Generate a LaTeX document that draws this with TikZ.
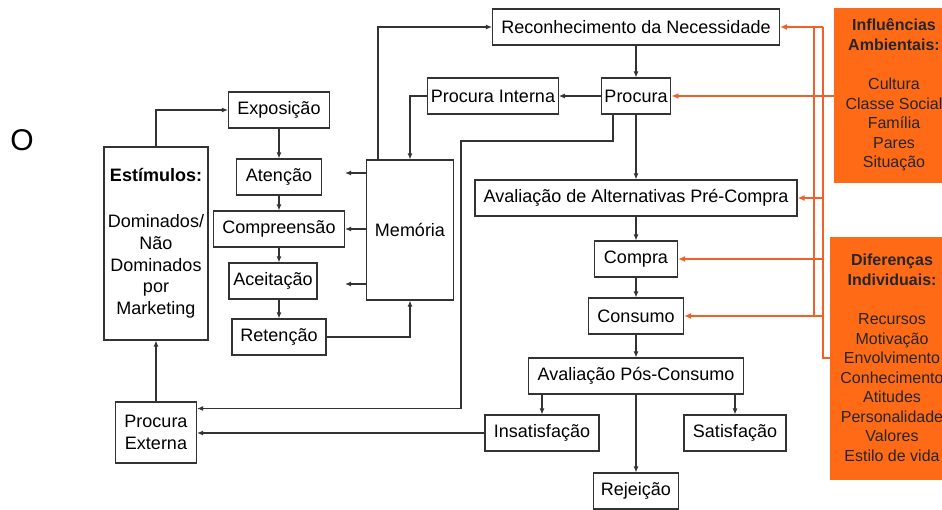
\documentclass[tikz,border=0pt]{standalone}
\usepackage{fontspec}
\setmainfont{Liberation Sans}
\usepackage{tikz}
\usetikzlibrary{shapes.geometric, arrows.meta, positioning}
\definecolor{laranja}{RGB}{255,106,22}
\definecolor{linhaLaranja}{RGB}{242,96,42}

\begin{document}
\begin{tikzpicture}[x=1pt, y=1pt, node distance=2cm]
	\tikzstyle{process} = [rectangle, minimum height=36pt, text centered, draw=black!80, line width=1.1pt, fill=white, font=\fontsize{18}{21.7}\selectfont]
	\tikzstyle{influence} = [rectangle, align=center, draw=laranja, fill=laranja, text=black!85, font=\fontsize{16}{19.5}\selectfont]
	\tikzstyle{arrow} = [draw=black!80, line width=1.1pt, -{Latex[length=6pt,width=5pt]}]
	\tikzstyle{orangeline} = [draw=linhaLaranja, line width=1.6pt]
	\tikzstyle{orangearrow} = [orangeline, -{Latex[length=7pt,width=6pt]}]
	\path[use as bounding box, fill=white] (0,0) rectangle (942,-509);
	\node (letraO) at (22,-140) {\fontsize{30}{30}\selectfont O};
	% coluna central
	\node (reconhecimento) [process, minimum width=287pt] at (636,-27) {Reconhecimento da Necessidade};
	\node (procura) [process, minimum width=68pt, below of=reconhecimento, node distance=69pt] {Procura};
	\node (procuraInterna) [process, minimum width=129pt, left of=procura, node distance=143pt] {Procura Interna};
	\node (avaliacaoPre) [process, minimum width=322pt, below of=procura, node distance=102pt] {Avaliação de Alternativas Pré-Compra};
	\node (compra) [process, minimum width=83pt, below of=avaliacaoPre, node distance=61pt] {Compra};
	\node (consumo) [process, minimum width=95pt, below of=compra, node distance=57pt] {Consumo};
	\node (avaliacaoPos) [process, minimum width=215pt, below of=consumo, node distance=60pt] {Avaliação Pós-Consumo};
	\node (insatisfacao) [process, minimum width=114pt, below of=avaliacaoPos, node distance=57pt, xshift=-94pt] {Insatisfação};
	\node (satisfacao) [process, minimum width=102pt, below of=avaliacaoPos, node distance=57pt, xshift=99pt] {Satisfação};
	\node (rejeicao) [process, minimum width=85pt, below of=avaliacaoPos, node distance=115pt] {Rejeição};
	% lado esquerdo
	\node (memoria) [process, minimum width=87pt, minimum height=140pt] at (410,-230) {Memória};
	\node (exposicao) [process, minimum width=101pt] at (279,-110) {Exposição};
	\node (atencao) [process, minimum width=85pt, below of=exposicao, node distance=67pt] {Atenção};
	\node (compreensao) [process, minimum width=131pt, below of=atencao, node distance=52pt] {Compreensão};
	\node (aceitacao) [process, minimum width=88pt, below of=compreensao, node distance=52pt, xshift=-6pt] {Aceitação};
	\node (retencao) [process, minimum width=94pt, below of=compreensao, node distance=108pt] {Retenção};
	\node (estimulos) [process, minimum width=104pt, minimum height=193pt, align=center] at (156,-243.5) {\textbf{Estímulos:}\\[24pt]Dominados/\\Não\\Dominados\\por\\Marketing};
	\node (procuraExterna) [process, minimum width=81pt, minimum height=61pt, align=center, below of=estimulos, node distance=189pt] {Procura\\Externa};
	% influencias
	\node (influencias) [influence, minimum width=120pt, minimum height=174pt] at (894,-95) {\textbf{Influências}\\\textbf{Ambientais:}\\[20pt]Cultura\\Classe Social\\Família\\Pares\\Situação};
	\node (diferencas) [influence, minimum width=124pt, minimum height=242pt] at (892,-358) {\textbf{Diferenças}\\\textbf{Individuais:}\\[20pt]Recursos\\Motivação\\Envolvimento\\Conhecimento\\Atitudes\\Personalidade\\Valores\\Estilo de vida};
	\coordinate (busInf) at (814,0);
	\coordinate (busDif) at (823,0);
	\coordinate (desvio) at (461,-141);
	\draw [arrow] (estimulos.north) |- (exposicao.west);
	\draw [arrow] (procuraExterna.north) -- (estimulos.south);
	\draw [arrow] (exposicao.south) -- (exposicao.south |- atencao.north);
	\draw [arrow] (atencao.south) -- (atencao.south |- compreensao.north);
	\draw [arrow] (compreensao.south) -- (compreensao.south |- aceitacao.north);
	\draw [arrow] (aceitacao.south -| compreensao.south) -- (compreensao.south |- retencao.north);
	\draw [arrow] ([yshift=4pt]memoria.west |- atencao.east) -- ([yshift=4pt]compreensao.east |- atencao.east);
	\draw [arrow] (memoria.west |- compreensao.east) -- (compreensao.east);
	\draw [arrow] ([yshift=-3pt]memoria.west |- aceitacao.east) -- ([yshift=-3pt]compreensao.east |- aceitacao.east);
	\draw [arrow] (retencao.east) -| (memoria.south);
	\draw [arrow] (procuraInterna.west) -| (memoria.north);
	\draw [arrow] ([xshift=12pt]memoria.north west) |- (reconhecimento.west);
	\draw [arrow] (reconhecimento) -- (procura);
	\draw [arrow] (procura) -- (procuraInterna);
	\draw [arrow] (procura) -- (avaliacaoPre);
	\draw [arrow] ([xshift=-23pt]procura.south) |- (desvio) |- ([yshift=24pt]procuraExterna.east);
	\draw [arrow] (avaliacaoPre) -- (compra);
	\draw [arrow] (compra) -- (consumo);
	\draw [arrow] (consumo) -- (avaliacaoPos);
	\draw [arrow] (avaliacaoPos.south -| insatisfacao) -- (insatisfacao.north);
	\draw [arrow] (avaliacaoPos.south -| satisfacao) -- (satisfacao.north);
	\draw [arrow] (avaliacaoPos) -- (rejeicao);
	\draw [arrow] (insatisfacao.west) -- (procuraExterna.east |- insatisfacao.west);
	% ligacoes laranja
	\draw [orangeline] (busInf |- reconhecimento.east) -- (busInf |- consumo.east);
	\draw [orangeline] (diferencas.west) -| (busDif |- reconhecimento.east);
	\draw [orangearrow] (influencias.west |- procura.east) -- (procura.east);
	\foreach \alvo in {reconhecimento, avaliacaoPre, compra, consumo}
		\draw [orangearrow] (busDif |- \alvo.east) -- (\alvo.east);
\end{tikzpicture}
\end{document}
